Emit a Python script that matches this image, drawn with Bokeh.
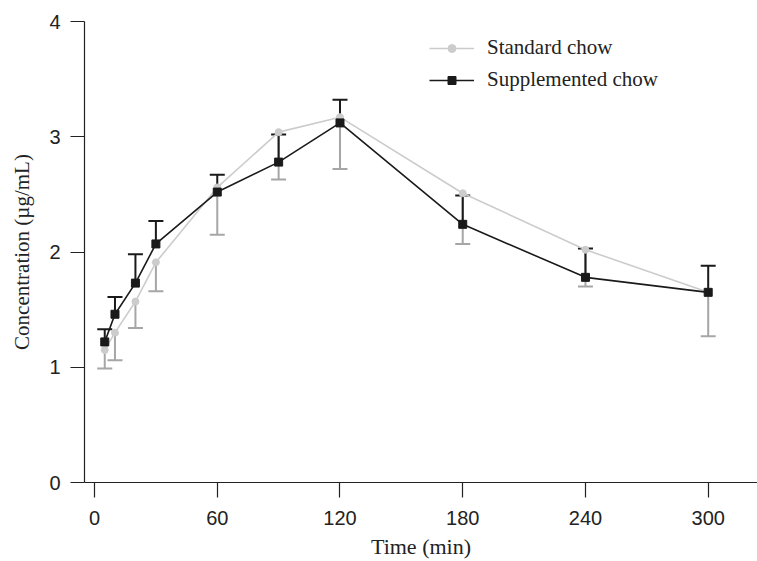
from bokeh.plotting import figure
from bokeh.models import FixedTicker, Legend, LegendItem, ColumnDataSource
from bokeh.embed import file_html
from bokeh.resources import INLINE

time_min = [5, 10, 20, 30, 60, 90, 120, 180, 240, 300]
standard_mean = [1.15, 1.30, 1.57, 1.91, 2.56, 3.04, 3.17, 2.51, 2.02, 1.65]
standard_lower = [0.99, 1.06, 1.34, 1.66, 2.15, 2.63, 2.72, 2.07, 1.70, 1.27]
supplemented_mean = [1.22, 1.46, 1.73, 2.07, 2.52, 2.78, 3.12, 2.24, 1.78, 1.65]
supplemented_upper = [1.33, 1.61, 1.98, 2.27, 2.67, 3.02, 3.32, 2.49, 2.03, 1.88]
x_ticks = [0, 60, 120, 180, 240, 300]
y_ticks = [0, 1, 2, 3, 4]

std = ColumnDataSource(dict(t=time_min, m=standard_mean, e=standard_lower))
sup = ColumnDataSource(dict(t=time_min, m=supplemented_mean, e=supplemented_upper))

p = figure(width=757, height=561, x_range=(-4.9, 324.1), y_range=(0, 4),
           output_backend="svg", toolbar_location=None,
           min_border_left=84, min_border_right=0, min_border_top=21, min_border_bottom=77)
p.outline_line_color = None
p.grid.visible = False
p.background_fill_color = "white"

SERIF = "Liberation Serif"
SANS = "Liberation Sans"

for ax in (p.xaxis[0], p.yaxis[0]):
    ax.axis_line_color = "#222222"
    ax.axis_line_width = 1.2
    ax.major_tick_line_color = "#222222"
    ax.major_tick_line_width = 1.2
    ax.major_tick_in = 0
    ax.minor_tick_line_color = None
    ax.major_label_text_font = SANS
    ax.major_label_text_font_size = "20px"
    ax.major_label_text_color = "#222222"
    ax.axis_label_text_font = SERIF
    ax.axis_label_text_font_style = "normal"
    ax.axis_label_text_color = "#222222"

p.xaxis[0].axis_label_text_font_size = "22px"
p.yaxis[0].axis_label_text_font_size = "21px"
p.xaxis[0].ticker = FixedTicker(ticks=x_ticks)
p.yaxis[0].ticker = FixedTicker(ticks=y_ticks)
p.xaxis[0].major_tick_out = 15
p.yaxis[0].major_tick_out = 14
p.xaxis[0].major_label_standoff = 13
p.yaxis[0].major_label_standoff = 10
p.xaxis[0].axis_label = "Time (min)"
p.yaxis[0].axis_label = "Concentration (µg/mL)"
p.xaxis[0].axis_label_standoff = 6
p.yaxis[0].axis_label_standoff = 12

# error bars
p.segment(x0="t", y0="e", x1="t", y1="m", source=std, line_color="#a6a6a6", line_width=2)
p.scatter(x="t", y="e", source=std, marker="dash", size=15, line_color="#a6a6a6", line_width=2)
p.segment(x0="t", y0="m", x1="t", y1="e", source=sup, line_color="#1a1a1a", line_width=2)
p.scatter(x="t", y="e", source=sup, marker="dash", size=15, line_color="#1a1a1a", line_width=2)

l1 = p.line(x="t", y="m", source=std, line_color="#cccccc", line_width=1.6)
m1 = p.scatter(x="t", y="m", source=std, marker="circle", size=7, fill_color="#cccccc", line_color="#cccccc")
l2 = p.line(x="t", y="m", source=sup, line_color="#1a1a1a", line_width=1.6)
m2 = p.scatter(x="t", y="m", source=sup, marker="square", size=8, fill_color="#1a1a1a", line_color="#1a1a1a")

legend = Legend(items=[LegendItem(label="Standard chow", renderers=[l1, m1]),
                       LegendItem(label="Supplemented chow", renderers=[l2, m2])],
                location=(345, 390), border_line_alpha=0, background_fill_alpha=0,
                padding=0, margin=0, spacing=7, glyph_width=45, glyph_height=20,
                label_standoff=13, label_text_font=SERIF, label_text_font_size="21px",
                label_text_color="#222222")
p.add_layout(legend, "center")

open("out.html", "w").write(file_html(p, INLINE))
